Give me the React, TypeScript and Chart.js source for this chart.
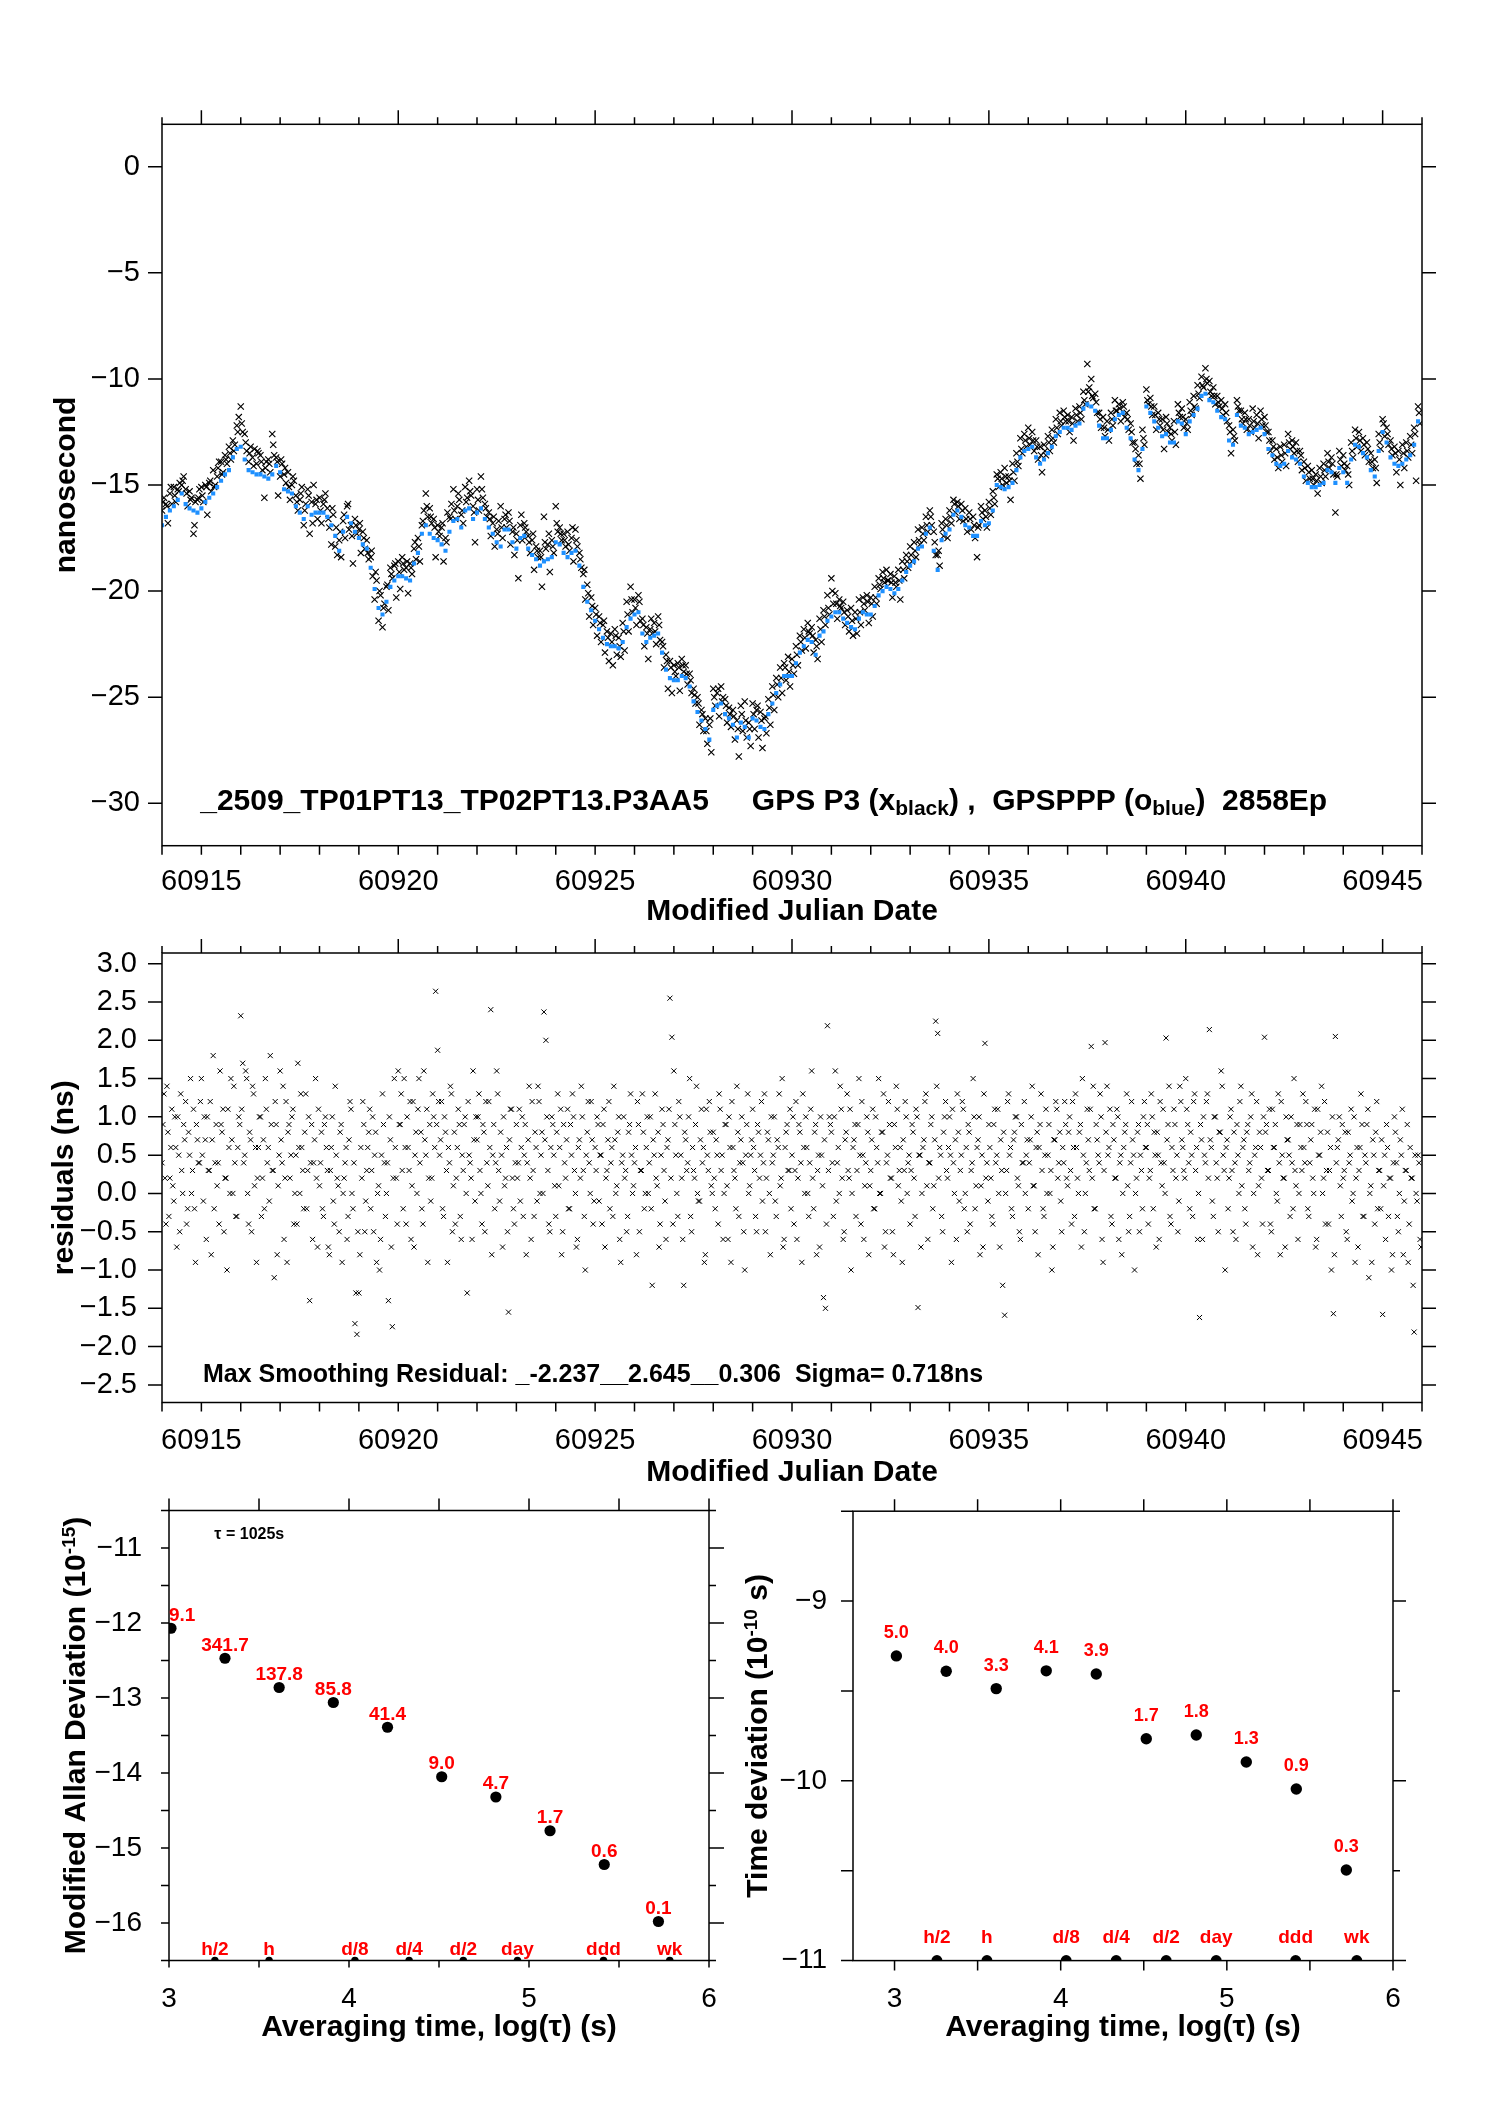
import React, { useEffect, useRef } from "react";
import { Chart, registerables } from "chart.js";

Chart.register(...registerables);

const FONT = "'Liberation Sans', Arial, Helvetica, sans-serif";
const MINUS = "\u2212";
const BLUE = "#1E90FF";
const RED = "#FF0000";

// ---------------- time-series data (MJD grid) ----------------
const mjdStart = 60914.0;
const blueStepDays = 0.1;
const blackStepDays = 0.05;
const blackBStepDays = 0.1;
const blackBOffsetDays = 0.025;
const residBOffsetDays = 0.025;

// GPSPPP (blue), ns, one value per 0.1 day
const gpspppBlue = [
  -16.9,-16.5,-16.2,-16.0,-15.7,-15.4,-15.9,-16.1,-16.2,-16.3,
  -16.1,-15.8,-15.6,-15.4,-15.1,-14.8,-14.5,-14.3,-13.7,-13.3,
  -13.2,-13.8,-14.3,-14.4,-14.5,-14.5,-14.6,-14.7,-14.5,-14.1,
  -14.4,-15.2,-15.3,-15.4,-16.0,-16.3,-16.6,-16.0,-16.4,-16.3,
  -16.3,-16.3,-16.5,-16.9,-17.4,-18.1,-17.2,-16.5,-16.8,-17.2,
  -17.5,-17.8,-18.0,-18.9,-19.9,-20.8,-21.1,-20.5,-19.8,-19.5,
  -19.3,-19.3,-19.4,-19.5,-18.7,-18.2,-17.3,-16.9,-17.3,-17.5,
  -17.6,-17.8,-18.1,-17.2,-16.7,-16.6,-17.0,-16.2,-16.1,-16.6,
  -16.3,-16.1,-16.6,-17.0,-17.3,-17.7,-17.9,-17.1,-17.1,-17.7,
  -18.0,-17.5,-17.4,-18.0,-18.3,-18.5,-18.8,-18.6,-18.5,-18.4,
  -17.7,-17.8,-18.2,-18.4,-18.2,-18.1,-18.8,-19.8,-20.5,-20.9,
  -21.4,-21.8,-22.2,-22.5,-22.6,-22.6,-22.7,-22.4,-21.7,-21.3,
  -21.1,-21.0,-22.0,-22.4,-22.2,-22.1,-22.0,-22.9,-23.7,-24.1,
  -24.2,-24.2,-24.0,-24.1,-24.5,-25.2,-25.7,-26.1,-26.5,-27.0,
  -25.6,-25.4,-25.3,-25.8,-26.0,-26.3,-26.9,-26.2,-26.4,-26.9,
  -26.0,-26.1,-26.4,-26.5,-25.8,-25.3,-24.8,-24.4,-24.0,-24.0,
  -24.0,-23.4,-22.9,-22.6,-22.3,-22.4,-23.0,-22.1,-21.9,-21.4,
  -21.2,-21.0,-21.0,-21.3,-21.5,-21.7,-21.8,-21.3,-21.0,-21.1,
  -21.1,-20.7,-20.2,-20.0,-19.8,-19.9,-20.1,-19.9,-19.5,-19.1,
  -18.8,-18.6,-18.0,-17.9,-17.3,-17.0,-18.1,-19.0,-17.6,-17.3,
  -17.1,-16.4,-16.2,-16.5,-16.9,-17.0,-17.4,-17.4,-16.7,-16.9,
  -16.8,-16.2,-15.0,-15.1,-15.2,-15.1,-14.9,-14.3,-13.7,-13.4,
  -13.3,-13.2,-13.7,-14.0,-13.8,-13.5,-13.2,-12.7,-12.5,-12.3,
  -12.3,-12.4,-12.2,-12.1,-11.4,-11.2,-11.3,-11.5,-12.2,-12.8,
  -12.8,-12.4,-11.9,-11.7,-11.6,-12.3,-12.8,-13.8,-14.3,-13.3,
  -11.3,-11.6,-12.0,-12.3,-12.7,-12.6,-13.0,-13.0,-12.0,-12.1,
  -12.6,-12.0,-11.7,-11.4,-10.8,-10.7,-11.0,-11.1,-11.5,-11.8,
  -11.9,-12.9,-13.1,-11.7,-12.2,-12.3,-12.6,-12.5,-12.4,-12.3,
  -12.6,-13.3,-13.6,-14.0,-14.1,-14.0,-13.4,-13.7,-13.8,-14.0,
  -14.6,-14.9,-15.1,-15.1,-15.0,-14.9,-14.3,-14.4,-14.9,-14.2,
  -14.4,-14.9,-13.8,-13.1,-13.2,-13.5,-13.7,-14.3,-14.6,-13.4,
  -12.5,-13.0,-13.7,-14.0,-14.1,-14.0,-13.8,-13.6,-13.1,-12.0,
];

// GPS P3 (black), ns, one value per 0.05 day
const gpsP3Black = [
  -16.2,-15.6,-15.9,-16.8,-15.4,-15.9,-15.1,-15.8,-15.2,-14.9,-15.0,-14.6,-15.2,-16.0,-15.3,-15.6,-17.3,-15.8,-15.7,-15.2,
  -15.1,-15.8,-15.0,-16.4,-14.9,-15.3,-14.3,-15.0,-14.6,-13.9,-13.9,-14.4,-13.6,-14.0,-13.2,-13.8,-12.9,-13.1,-12.2,-11.8,
  -11.3,-12.5,-12.6,-13.4,-13.9,-13.2,-13.7,-13.3,-14.0,-13.5,-13.6,-14.3,-15.6,-13.9,-13.8,-14.4,-12.6,-13.6,-13.7,-15.5,
  -14.6,-14.0,-14.5,-14.9,-14.4,-15.7,-15.0,-14.8,-15.5,-16.2,-15.7,-15.1,-16.9,-15.9,-15.2,-17.3,-15.8,-15.0,-15.9,-16.6,
  -15.6,-16.8,-15.9,-15.4,-16.1,-17.0,-17.8,-16.4,-17.9,-18.3,-17.6,-18.4,-16.7,-17.5,-16.0,-17.1,-16.9,-18.7,-16.6,-17.3,
  -17.1,-18.2,-17.2,-18.0,-17.6,-18.5,-18.4,-19.3,-20.4,-19.5,-21.4,-20.2,-21.7,-20.6,-19.8,-20.9,-18.9,-19.4,-18.8,-20.3,
  -18.6,-19.9,-18.4,-19.0,-18.9,-20.1,-18.7,-19.2,-18.0,-18.5,-17.5,-18.6,-16.9,-16.2,-15.4,-16.5,-16.1,-16.8,-16.6,-18.4,
  -16.9,-17.4,-17.0,-18.6,-17.5,-16.3,-16.5,-15.9,-15.2,-16.6,-16.0,-15.7,-16.4,-16.8,-15.1,-15.6,-14.8,-15.5,-16.0,-17.7,
  -15.2,-16.2,-14.6,-15.6,-15.9,-16.5,-16.3,-17.4,-16.8,-17.9,-17.1,-16.7,-16.0,-17.5,-16.6,-17.0,-16.3,-17.8,-17.2,-18.3,
  -17.3,-19.4,-16.9,-17.6,-16.8,-17.2,-17.4,-18.2,-17.6,-19.0,-17.9,-18.4,-18.1,-19.8,-16.5,-18.0,-17.8,-19.1,-17.6,-18.2,
  -16.0,-17.2,-17.0,-17.6,-17.3,-17.9,-17.2,-18.1,-17.5,-18.6,-17.1,-17.9,-18.2,-18.9,-19.2,-20.4,-19.7,-21.2,-20.3,-21.6,
  -20.8,-22.1,-21.2,-22.4,-21.6,-22.9,-21.9,-23.3,-22.0,-23.5,-21.8,-23.0,-22.2,-23.1,-21.5,-22.8,-20.5,-21.9,-19.8,-21.0,
  -20.4,-21.6,-20.2,-21.4,-21.3,-22.6,-21.7,-23.2,-21.8,-22.0,-21.5,-22.5,-21.2,-22.3,-22.4,-23.6,-23.0,-24.6,-23.3,-24.8,
  -23.5,-24.0,-23.4,-24.7,-23.2,-23.8,-23.5,-24.4,-23.9,-24.8,-24.6,-25.3,-25.0,-26.3,-25.6,-26.6,-26.0,-27.2,-26.3,-27.6,
  -24.6,-25.4,-24.8,-25.9,-24.5,-25.0,-25.1,-26.2,-25.5,-26.4,-25.6,-27.0,-26.1,-27.8,-25.4,-26.6,-25.2,-26.9,-26.2,-27.3,
  -25.3,-26.5,-25.6,-26.9,-25.7,-27.4,-26.0,-26.7,-25.1,-26.3,-24.5,-25.6,-24.1,-25.0,-23.6,-24.8,-23.4,-24.2,-23.1,-24.5,
  -23.2,-23.9,-22.6,-23.5,-22.1,-22.8,-21.8,-22.7,-21.5,-22.0,-21.7,-22.9,-22.3,-23.2,-21.3,-22.4,-20.9,-21.6,-20.2,-21.1,
  -19.4,-20.6,-20.1,-21.3,-20.4,-20.8,-20.5,-21.6,-20.9,-21.9,-20.8,-22.1,-21.0,-22.0,-20.4,-21.6,-20.3,-20.9,-20.2,-21.5,
  -20.3,-21.2,-19.8,-20.6,-19.4,-19.9,-19.1,-19.6,-19.0,-19.5,-19.2,-20.3,-19.3,-19.8,-19.0,-20.4,-18.6,-19.4,-18.3,-18.9,
  -17.9,-18.6,-17.7,-18.4,-17.1,-17.8,-17.0,-17.6,-16.5,-17.2,-16.2,-16.9,-17.2,-18.3,-18.3,-18.8,-16.8,-17.4,-16.6,-17.5,
  -16.2,-16.8,-15.7,-16.3,-15.8,-16.6,-15.9,-16.7,-16.1,-17.2,-16.3,-17.1,-16.5,-17.5,-18.4,-16.9,-16.0,-16.6,-16.2,-17.0,
  -15.8,-16.4,-15.3,-15.9,-14.5,-15.1,-14.4,-15.0,-14.2,-14.9,-14.6,-15.7,-14.0,-14.8,-13.5,-14.1,-12.8,-13.5,-12.6,-13.2,
  -12.3,-13.1,-12.5,-13.4,-12.9,-13.8,-13.2,-14.4,-13.1,-13.6,-12.7,-13.4,-12.4,-13.0,-11.9,-12.6,-11.6,-12.2,-11.5,-12.0,
  -11.7,-12.5,-11.8,-12.9,-11.4,-12.0,-11.3,-11.9,-10.6,-11.2,-9.3,-10.4,-10.0,-10.9,-10.7,-11.6,-11.6,-12.3,-11.8,-12.7,
  -12.0,-12.9,-11.6,-12.2,-11.0,-11.5,-11.2,-12.0,-11.1,-11.8,-11.6,-12.4,-12.1,-13.0,-13.0,-14.0,-13.6,-14.7,-12.4,-13.1,
  -10.5,-11.2,-10.9,-11.7,-11.3,-12.4,-11.6,-12.2,-11.9,-13.3,-11.8,-12.5,-12.3,-12.9,-12.0,-13.1,-11.2,-11.8,-11.4,-12.3,
  -11.9,-12.4,-11.1,-11.7,-10.8,-11.4,-10.3,-10.9,-9.9,-10.4,-9.5,-10.2,-10.1,-10.8,-10.4,-11.2,-10.8,-11.3,-11.0,-11.7,
  -11.2,-12.0,-12.2,-13.5,-12.4,-12.9,-11.0,-11.5,-11.5,-12.1,-11.6,-12.4,-11.9,-12.5,-11.4,-12.3,-11.7,-12.8,-11.5,-12.2,
  -11.8,-12.5,-12.5,-13.4,-12.9,-13.8,-13.3,-14.2,-13.2,-13.9,-13.1,-14.1,-12.6,-13.3,-12.9,-13.5,-13.0,-13.9,-13.4,-14.3,
  -13.9,-14.8,-14.1,-14.7,-14.3,-15.0,-14.5,-15.4,-14.2,-14.9,-14.0,-14.6,-13.5,-14.2,-13.7,-14.5,-16.3,-14.6,-13.4,-14.1,
  -13.6,-14.3,-14.1,-15.0,-13.0,-13.7,-12.4,-13.2,-12.5,-13.4,-12.8,-13.6,-13.0,-13.9,-13.5,-14.2,-13.8,-14.9,-12.6,-13.3,
  -11.9,-12.7,-12.3,-13.1,-12.9,-13.6,-13.2,-14.4,-13.4,-15.0,-13.1,-14.2,-13.0,-13.7,-12.7,-13.5,-12.3,-14.8,-11.3,-12.1,
];

// GPS P3 (black), intermediate epochs, ns, one value per 0.1 day starting at +0.025 day
const gpsP3BlackB = [
  -15.8,-16.0,-15.1,-15.5,-15.3,-14.8,-15.4,-15.7,-16.9,-15.6,
  -15.5,-15.1,-14.8,-15.1,-14.2,-14.5,-13.8,-13.5,-13.4,-12.5,
  -12.1,-13.0,-13.5,-14.1,-13.4,-13.9,-14.2,-14.0,-13.1,-13.9,
  -13.8,-14.2,-15.1,-14.6,-15.8,-15.4,-16.2,-15.5,-16.8,-15.7,
  -16.2,-15.7,-16.6,-16.1,-17.0,-17.2,-16.4,-15.9,-17.4,-16.9,
  -16.8,-17.5,-18.2,-18.1,-19.1,-20.0,-20.8,-19.7,-19.2,-18.7,
  -19.1,-18.7,-18.6,-18.9,-17.7,-17.9,-16.7,-16.0,-16.5,-17.0,
  -17.2,-16.8,-17.7,-16.6,-16.2,-15.4,-16.2,-15.8,-15.3,-16.3,
  -15.7,-15.2,-16.1,-16.6,-16.5,-17.3,-17.0,-16.4,-16.7,-17.0,
  -17.6,-16.4,-17.0,-17.7,-17.3,-18.1,-18.4,-17.7,-17.3,-17.9,
  -16.8,-17.3,-17.6,-17.8,-17.0,-17.6,-18.5,-19.0,-20.1,-20.7,
  -21.1,-21.5,-21.4,-22.2,-22.4,-22.1,-22.6,-21.9,-21.1,-20.4,
  -20.8,-20.5,-21.6,-22.0,-21.3,-21.9,-21.6,-22.6,-23.3,-23.6,
  -23.8,-23.6,-23.5,-23.9,-24.2,-24.9,-25.3,-25.8,-26.6,-26.0,
  -25.0,-24.6,-25.2,-25.4,-25.8,-25.9,-26.5,-25.8,-26.1,-26.5,
  -25.8,-25.4,-26.1,-25.9,-25.5,-24.9,-24.4,-24.1,-23.6,-23.8,
  -23.5,-23.0,-22.4,-22.2,-21.9,-22.1,-22.6,-21.8,-21.2,-20.8,
  -20.0,-20.6,-20.7,-21.0,-21.2,-21.4,-21.3,-21.0,-20.6,-20.5,
  -20.6,-20.3,-19.7,-19.4,-19.5,-19.6,-19.6,-19.5,-19.0,-18.6,
  -18.3,-18.1,-17.6,-17.3,-16.9,-16.5,-17.7,-18.1,-17.1,-16.9,
  -16.5,-15.9,-16.0,-16.2,-16.6,-16.6,-16.9,-17.0,-16.3,-16.5,
  -16.1,-15.6,-14.7,-14.7,-14.6,-14.8,-14.4,-13.9,-13.3,-12.9,
  -12.8,-12.9,-13.2,-13.6,-13.4,-13.0,-12.8,-12.3,-12.0,-11.8,
  -12.0,-12.1,-11.7,-11.6,-11.0,-10.6,-10.8,-11.1,-11.9,-12.3,
  -12.4,-11.9,-11.5,-11.4,-11.3,-11.9,-12.5,-13.3,-14.0,-12.8,
  -11.0,-11.3,-11.7,-11.9,-12.4,-12.1,-12.6,-12.5,-11.6,-11.8,
  -12.1,-11.5,-11.3,-10.7,-10.3,-10.0,-10.6,-10.8,-11.1,-11.4,
  -11.6,-12.5,-12.7,-11.3,-11.9,-11.9,-12.2,-12.0,-12.1,-11.9,
  -12.2,-12.9,-13.2,-13.7,-13.6,-13.5,-13.0,-13.2,-13.4,-13.6,
  -14.2,-14.4,-14.7,-14.8,-14.6,-14.3,-13.9,-14.0,-14.5,-13.8,
  -14.0,-14.5,-13.4,-12.8,-12.9,-13.1,-13.3,-13.9,-14.2,-13.0,
  -12.1,-12.6,-13.3,-13.5,-13.8,-13.5,-13.4,-13.1,-12.6,-11.6,
];

// smoothing residuals, ns, one value per 0.05 day
const residualsNs = [
  0.4,1.3,-0.4,0.8,0.2,1.1,-0.1,0.6,1.0,-0.5,0.3,0.9,1.2,-0.2,0.5,0.0,1.1,-0.9,0.7,0.4,
  1.5,-0.1,0.7,1.0,0.3,-0.8,1.8,0.4,0.1,-0.4,0.9,1.1,0.2,-1.0,0.6,1.5,0.0,0.4,-0.3,1.0,
  2.32,1.7,0.5,1.5,-0.4,0.7,1.4,0.1,-0.9,0.6,1.0,0.2,-0.2,1.1,0.6,1.8,0.3,-1.1,0.9,0.1,
  1.6,0.4,-0.6,1.2,0.8,0.2,1.0,-0.4,0.5,1.7,0.0,0.6,-0.2,1.3,0.3,-1.4,0.9,0.4,1.5,-0.7,
  0.1,0.8,-0.3,1.0,0.3,-0.8,0.6,-0.1,1.4,0.2,-0.5,0.9,0.0,0.4,-0.6,0.7,1.1,-0.2,-1.7,-1.84,
  -1.3,0.6,1.2,-0.5,0.3,0.8,-0.2,1.0,0.5,-0.9,0.1,-0.6,1.3,0.4,0.0,-1.4,0.7,-1.74,1.5,0.2,
  1.6,0.9,0.3,1.5,-0.4,0.6,1.2,0.1,-0.7,0.8,1.1,0.4,-0.2,1.6,0.5,-0.9,0.9,0.2,1.0,2.64,
  1.87,0.5,1.2,-0.3,0.8,-0.9,0.4,1.3,0.1,-0.4,0.6,0.9,-0.6,0.3,1.0,-1.3,0.5,0.2,1.6,-0.1,
  0.7,1.3,0.0,0.9,-0.5,0.4,1.2,2.40,0.5,-0.2,1.6,0.3,0.8,-0.7,0.1,0.6,-1.55,1.1,0.2,-0.4,
  0.9,0.4,-0.1,1.0,0.5,-0.8,0.7,0.2,1.2,-0.3,0.6,1.4,0.0,0.8,2.37,2.0,0.3,-0.5,1.0,0.5,
  -0.3,1.3,0.6,-0.8,0.9,0.2,1.1,-0.2,0.5,1.0,0.0,-0.6,0.7,1.4,0.3,-1.0,0.8,0.4,1.2,-0.4,
  0.6,1.0,-0.1,0.5,0.9,-0.7,0.3,1.2,0.4,-0.3,0.7,0.1,1.0,-0.9,0.5,0.2,-0.5,0.8,1.3,0.0,
  0.4,-0.8,0.9,0.3,1.3,-0.2,0.6,0.0,1.0,-1.2,0.5,0.2,0.8,-0.4,1.1,0.3,-0.6,0.7,2.55,2.04,
  1.6,0.5,-0.3,1.0,0.2,-1.2,0.7,0.4,1.5,-0.5,0.3,0.9,0.0,-0.1,1.1,0.6,-0.8,0.5,1.2,0.1,
  0.8,-0.2,0.5,1.3,0.3,-0.6,0.9,0.1,1.0,-0.9,0.6,0.2,1.4,-0.3,0.7,0.4,-1.0,0.9,0.0,0.5,
  1.1,0.3,-0.5,0.8,0.5,-0.1,1.3,0.2,0.7,-0.8,0.4,1.0,-0.3,0.6,0.1,1.5,-0.6,0.8,0.3,1.1,
  0.5,-0.4,1.2,0.2,0.8,-0.9,0.6,1.0,0.0,0.4,1.6,-0.2,0.9,0.3,-0.7,0.5,-1.36,-1.50,2.19,1.0,
  0.8,-0.3,1.6,0.4,0.0,1.1,-0.6,0.7,1.3,0.2,-1.0,0.6,0.9,0.3,1.5,-0.4,0.5,0.1,1.0,-0.8,
  0.3,1.1,-0.2,0.6,1.5,0.0,0.8,-0.7,0.4,1.2,0.2,-0.5,0.9,1.4,0.1,0.6,-0.9,0.3,1.0,0.4,
  -0.4,0.9,0.2,1.1,-1.49,0.5,0.0,0.7,1.3,-0.6,0.4,1.0,0.1,2.25,2.09,0.6,-0.3,0.8,1.2,0.2,
  1.0,-0.9,0.4,0.7,1.3,-0.1,0.5,1.1,0.0,-0.5,0.8,0.3,1.5,-0.2,0.6,1.0,0.1,-0.7,1.96,0.4,
  0.9,0.2,-0.4,1.1,0.5,0.0,0.7,-1.2,-1.59,0.3,1.3,0.6,-0.3,0.8,1.0,0.1,-0.6,0.4,1.2,0.5,
  -0.2,0.7,1.4,0.1,0.6,-0.8,0.9,0.3,-0.3,1.1,0.5,0.0,-1.0,0.7,1.2,0.2,0.8,-0.5,0.4,0.9,
  0.1,1.0,-0.4,0.6,1.3,0.2,0.8,-0.7,0.5,0.0,1.1,0.3,1.92,1.4,-0.2,0.7,0.4,1.0,-0.9,1.97,
  1.4,0.6,-0.3,0.9,0.2,1.1,-0.6,0.5,0.0,0.8,1.3,-0.5,0.4,0.7,-1.0,0.2,0.9,0.5,-0.2,1.2,
  0.6,-0.4,0.3,1.0,0.8,-0.7,0.5,1.2,0.1,0.4,2.03,0.9,-0.3,0.6,1.1,0.2,-0.5,1.4,0.7,0.3,
  1.5,0.9,-0.2,0.5,1.2,0.3,-0.6,-1.62,0.7,1.0,0.4,1.3,2.14,0.6,-0.3,1.0,0.2,0.8,1.6,0.5,
  -1.0,0.7,0.2,1.1,-0.5,0.4,0.9,0.0,1.4,0.6,-0.2,0.8,0.3,1.0,-0.7,0.5,1.2,0.1,0.6,-0.4,
  2.04,0.9,0.3,-0.4,1.1,0.6,0.0,1.3,-0.8,0.5,0.2,1.0,0.7,-0.3,0.4,1.5,0.1,-0.6,0.9,0.3,
  0.6,1.2,-0.2,0.4,0.9,0.0,-0.7,1.1,0.5,1.4,0.2,-0.4,0.8,0.3,-1.0,-1.57,2.05,0.6,1.0,-0.3,
  0.2,0.8,-0.6,0.4,1.1,0.0,-0.9,0.6,0.3,1.3,-0.3,0.5,0.9,-1.1,0.1,0.7,-0.4,1.2,0.3,-0.2,
  -1.58,0.5,0.9,-0.3,0.2,-0.8,1.0,0.4,-0.5,0.7,1.1,-0.1,0.3,-0.9,0.6,0.2,-1.81,0.0,0.5,-0.6,
];

// smoothing residuals, intermediate epochs, ns, one value per 0.05 day starting at +0.025 day
const residualsNsB = [
  0.9,0.2,1.4,-0.3,0.6,0.1,1.0,-0.7,0.5,1.3,0.0,0.7,-0.4,0.8,1.5,0.3,-0.2,0.9,0.4,1.2,
  0.5,1.0,-0.6,0.3,1.2,0.7,-0.2,0.9,0.4,1.6,0.8,-0.5,0.2,1.1,0.0,0.7,1.4,-0.3,0.6,0.9,
  1.1,0.4,1.6,0.0,0.8,-0.5,1.3,0.6,0.2,1.0,-0.3,0.7,1.5,0.4,-0.1,0.9,0.3,1.2,-0.8,0.5,
  0.7,1.4,0.2,-0.9,0.9,0.5,1.1,0.0,-0.4,0.6,1.3,0.3,0.8,-0.2,1.0,0.4,-0.6,0.7,0.2,1.1,
  0.4,-0.2,0.9,0.6,-0.7,0.3,1.0,-0.4,0.5,0.1,0.8,-0.9,0.2,0.6,-0.3,1.2,0.0,0.4,-1.3,-0.5,
  -0.8,0.2,0.9,-0.1,0.6,1.1,0.3,-0.5,0.8,0.0,-1.0,0.5,0.9,-0.3,0.4,1.0,-0.7,0.2,0.6,-0.4,
  0.9,1.3,-0.2,0.6,1.0,0.3,-0.6,1.2,0.5,0.0,1.5,0.8,-0.4,0.7,1.1,0.2,-0.1,1.3,0.6,0.9,
  1.2,0.7,-0.2,1.0,0.3,0.6,1.4,-0.5,0.8,0.2,1.1,-0.3,0.5,0.9,0.0,1.2,0.4,-0.6,0.7,1.0,
  1.0,0.3,-0.4,0.8,1.2,0.1,0.6,-0.8,0.9,0.4,1.3,-0.1,0.5,1.0,0.2,-0.5,0.7,1.1,-0.2,0.4,
  0.2,1.1,0.6,-0.3,0.9,0.4,1.4,-0.6,0.3,0.8,-0.1,1.2,0.5,0.0,0.7,1.0,-0.4,0.6,0.9,0.1,
  0.8,0.1,1.1,-0.5,0.4,0.7,-0.2,0.9,1.3,0.3,-0.7,0.6,0.2,1.0,-0.3,0.5,1.2,0.0,0.7,-0.1,
  0.3,0.9,0.5,-0.4,1.1,0.2,0.7,-0.2,0.6,1.4,0.0,0.8,-0.6,0.4,1.0,0.3,-0.3,0.9,0.5,0.1,
  0.6,1.2,-0.5,0.3,0.8,0.0,1.0,0.4,-0.2,0.7,1.3,0.1,-0.7,0.5,0.9,-0.1,0.6,1.1,0.2,-0.4,
  0.9,0.0,1.2,0.5,-0.6,0.8,0.3,1.0,-0.3,0.6,0.2,1.4,-0.1,0.7,0.4,-0.9,1.1,0.3,0.8,0.0,
  0.2,0.7,-0.4,1.1,0.5,0.0,0.9,-0.6,0.6,1.2,0.3,-0.2,0.8,0.4,1.0,-0.5,0.5,1.3,0.1,0.7,
  0.6,-0.3,0.9,0.2,1.2,0.4,-0.5,0.8,0.0,1.0,0.5,-0.1,0.7,1.3,0.2,-0.7,0.6,0.9,0.3,-0.2,
  1.0,0.3,-0.6,0.9,0.4,1.3,0.0,0.6,-0.3,1.1,0.2,0.8,-0.8,0.5,1.0,0.1,0.7,-0.4,0.3,0.9,
  0.4,1.0,-0.1,0.6,1.4,0.2,-0.5,0.8,0.3,1.1,0.0,0.7,-0.3,0.9,0.5,1.2,-0.6,0.4,0.8,0.1,
  0.7,-0.2,1.0,0.4,0.0,0.8,1.3,-0.5,0.5,0.9,0.2,-0.8,0.6,1.1,0.3,-0.1,0.7,1.2,0.0,0.5,
  0.3,0.8,-0.3,1.0,0.5,-0.7,0.6,1.2,0.1,0.4,0.9,-0.2,0.7,1.4,0.2,0.5,-0.5,1.0,0.3,0.6,
  0.5,1.1,0.0,-0.6,0.8,0.3,1.2,-0.2,0.6,0.9,-0.4,0.4,1.0,0.1,0.7,-0.8,0.5,1.3,0.2,-0.1,
  0.6,-0.3,0.9,0.4,1.1,-0.7,0.3,0.8,0.0,1.2,0.5,-0.2,0.7,1.0,0.2,-0.5,0.9,0.4,0.0,0.7,
  0.4,1.0,0.1,-0.5,0.8,0.6,1.3,-0.2,0.5,0.0,0.9,0.3,-0.7,0.7,1.1,0.4,-0.1,0.6,1.2,0.2,
  0.8,0.3,1.2,-0.3,0.6,0.0,0.9,1.5,-0.5,0.4,0.7,1.1,0.2,-0.2,0.9,0.5,1.3,-0.6,0.3,0.8,
  0.5,1.1,-0.4,0.7,0.2,1.0,0.4,-0.8,0.6,0.9,0.1,-0.3,1.2,0.5,0.0,0.8,-0.5,0.3,1.0,0.6,
  0.9,0.2,1.3,-0.2,0.5,0.8,-0.6,0.4,1.1,0.0,0.7,1.4,-0.4,0.3,0.9,0.5,-0.1,1.2,0.6,0.2,
  1.1,0.4,0.8,-0.3,1.3,0.6,0.0,0.9,-0.6,0.5,1.2,0.2,0.7,-0.1,1.0,0.4,-0.5,0.8,1.4,0.3,
  0.6,-0.2,1.0,0.3,0.8,-0.6,0.5,1.2,0.1,0.7,-0.4,0.9,0.4,1.3,0.0,0.6,-0.8,0.8,0.2,1.0,
  0.8,0.3,1.1,-0.5,0.6,0.9,-0.1,0.4,1.2,0.2,-0.7,0.7,0.5,1.0,-0.2,0.3,0.9,0.0,0.6,1.3,
  0.4,0.9,-0.3,0.7,0.2,1.1,-0.6,0.5,0.8,0.0,1.2,0.3,-0.4,0.6,1.0,-0.8,0.4,0.7,0.1,0.9,
  0.3,-0.5,0.8,0.5,-0.1,1.0,0.2,-0.7,0.6,0.9,-0.3,0.4,1.1,0.0,-0.9,0.5,0.8,-0.2,0.3,0.7,
  0.1,-0.6,0.6,0.2,-1.0,0.4,0.8,-0.3,0.0,0.5,-0.8,0.3,0.9,-0.4,0.2,-1.2,0.5,-0.1,0.4,-0.7,
];

const mjdMin = 60914;
const mjdMax = 60946;
const mjdTickValues = [60915, 60920, 60925, 60930, 60935, 60940, 60945];
const nsTickValues = [-30, -25, -20, -15, -10, -5, 0];
const residTickValues = [-2.5, -2.0, -1.5, -1.0, -0.5, 0, 0.5, 1.0, 1.5, 2.0, 2.5, 3.0];

// ---------------- stability data ----------------
const logTau = [3.011, 3.311, 3.612, 3.913, 4.214, 4.515, 4.816, 5.117, 5.418, 5.719];
const mdevLog = [-12.07, -12.47, -12.86, -13.06, -13.39, -14.05, -14.32, -14.77, -15.22, -15.98];
const mdevLabels = ["9.1", "341.7", "137.8", "85.8", "41.4", "9.0", "4.7", "1.7", "0.6", "0.1"];
const tdevLog = [-9.305, -9.39, -9.487, -9.388, -9.406, -9.766, -9.745, -9.895, -10.045, -10.496];
const tdevLabels = ["5.0", "4.0", "3.3", "4.1", "3.9", "1.7", "1.8", "1.3", "0.9", "0.3"];
const markerNames = ["h/2", "h", "d/8", "d/4", "d/2", "day", "ddd", "wk"];
const markerLogTau = [3.255, 3.556, 4.033, 4.334, 4.635, 4.936, 5.414, 5.782];
const logTauTickValues = [3, 4, 5, 6];
const mdevTickValues = [-16, -15, -14, -13, -12, -11];
const tdevTickValues = [-11, -10, -9];
const mdevAxisMin = -16.5;
const mdevAxisMax = -10.5;
const tdevAxisMin = -11;
const tdevAxisMax = -8.5;

// ---------------- text ----------------
const topTitleA = "_2509_TP01PT13_TP02PT13.P3AA5";
const residualNote = "Max Smoothing Residual: _-2.237__2.645__0.306  Sigma= 0.718ns";
const tauNote = "\u03C4 = 1025s";

// ---------------- helpers ----------------
type Side = "top" | "bottom" | "left" | "right";
type TickSpec = { side: Side; values: number[]; len: number };
type Seg = { t: string; size: number; dy?: number };
type Geo = { cx: number; cy: number; cw: number; ch: number; L: number; T: number; R: number; B: number };

const range = (a: number, b: number, s: number) => {
  const out: number[] = [];
  for (let v = a; v <= b + 1e-9; v += s) out.push(Math.round(v * 1000) / 1000);
  return out;
};
const fmtSigned = (v: number, d: number) => (v < 0 ? MINUS : "") + Math.abs(v).toFixed(d);

function drawFrame(chart: any, ticks: TickSpec[]) {
  const { ctx, chartArea: a } = chart;
  const xs = chart.scales.x;
  const ys = chart.scales.y;
  ctx.save();
  ctx.strokeStyle = "#000";
  ctx.lineWidth = 1.5;
  ctx.strokeRect(a.left, a.top, a.right - a.left, a.bottom - a.top);
  ctx.beginPath();
  for (const t of ticks) {
    for (const v of t.values) {
      if (t.side === "top" || t.side === "bottom") {
        const p = xs.getPixelForValue(v);
        const y0 = t.side === "top" ? a.top : a.bottom;
        const y1 = t.side === "top" ? a.top - t.len : a.bottom + t.len;
        ctx.moveTo(p, y0);
        ctx.lineTo(p, y1);
      } else {
        const p = ys.getPixelForValue(v);
        const x0 = t.side === "left" ? a.left : a.right;
        const x1 = t.side === "left" ? a.left - t.len : a.right + t.len;
        ctx.moveTo(x0, p);
        ctx.lineTo(x1, p);
      }
    }
  }
  ctx.stroke();
  ctx.restore();
}

function segWidth(ctx: CanvasRenderingContext2D, segs: Seg[]) {
  let w = 0;
  for (const s of segs) {
    ctx.font = `bold ${s.size}px ${FONT}`;
    w += ctx.measureText(s.t).width;
  }
  return w;
}

function drawSegs(ctx: CanvasRenderingContext2D, x: number, y: number, segs: Seg[], color = "#000") {
  let cx = x;
  ctx.fillStyle = color;
  ctx.textAlign = "left";
  ctx.textBaseline = "alphabetic";
  for (const s of segs) {
    ctx.font = `bold ${s.size}px ${FONT}`;
    ctx.fillText(s.t, cx, y + (s.dy || 0));
    cx += ctx.measureText(s.t).width;
  }
}

function drawVTitle(chart: any, xBaseline: number, segs: Seg[]) {
  const { ctx, chartArea: a } = chart;
  ctx.save();
  const w = segWidth(ctx, segs);
  ctx.translate(xBaseline, (a.top + a.bottom) / 2);
  ctx.rotate(-Math.PI / 2);
  drawSegs(ctx, -w / 2, 0, segs);
  ctx.restore();
}

function xAxis(g: Geo, min: number, max: number, ticks: number[], fmt: (v: number) => string, size: number, pad: number, title: string, pb: number) {
  return {
    type: "linear",
    position: "bottom",
    min,
    max,
    grid: { display: false, drawTicks: false },
    border: { display: false },
    ticks: {
      autoSkip: false,
      maxRotation: 0,
      minRotation: 0,
      padding: pad,
      color: "#000",
      font: { family: FONT, size },
      callback: (v: any) => fmt(Number(v)),
    },
    afterBuildTicks: (s: any) => {
      s.ticks = ticks.map((v) => ({ value: v }));
    },
    afterFit: (s: any) => {
      s.height = g.cy + g.ch - g.B;
    },
    title: {
      display: true,
      text: title,
      color: "#000",
      font: { family: FONT, size: 30, weight: "bold" },
      padding: { top: 0, bottom: pb },
    },
  };
}

function yAxis(g: Geo, min: number, max: number, ticks: number[], fmt: (v: number) => string, size: number, pad: number, title: string | null, pt: number) {
  return {
    type: "linear",
    position: "left",
    min,
    max,
    grid: { display: false, drawTicks: false },
    border: { display: false },
    ticks: {
      autoSkip: false,
      padding: pad,
      color: "#000",
      font: { family: FONT, size },
      callback: (v: any) => fmt(Number(v)),
    },
    afterBuildTicks: (s: any) => {
      s.ticks = ticks.map((v) => ({ value: v }));
    },
    afterFit: (s: any) => {
      s.width = g.L - g.cx;
    },
    title: title
      ? {
          display: true,
          text: title,
          color: "#000",
          font: { family: FONT, size: 30, weight: "bold" },
          padding: { top: pt, bottom: 0 },
        }
      : { display: false },
  };
}

function baseOptions(g: Geo, scales: any) {
  return {
    responsive: false,
    animation: false,
    events: [],
    layout: { padding: { top: g.T - g.cy, right: g.cx + g.cw - g.R, left: 0, bottom: 0 } },
    plugins: { legend: { display: false }, tooltip: { enabled: false } },
    scales,
  };
}

// ---------------- panel geometry (page pixels) ----------------
const geoTop: Geo = { cx: 0, cy: 40, cw: 1488, ch: 890, L: 162, T: 124.3, R: 1422, B: 845.7 };
const geoRes: Geo = { cx: 0, cy: 905, cw: 1488, ch: 590, L: 162, T: 953, R: 1422, B: 1402.5 };
const geoMdev: Geo = { cx: 0, cy: 1460, cw: 744, ch: 645, L: 169, T: 1510.5, R: 709, B: 1960.5 };
const geoTdev: Geo = { cx: 744, cy: 1460, cw: 744, ch: 645, L: 853, T: 1511.2, R: 1393, B: 1960.6 };

const dayTicks = range(mjdMin, mjdMax, 1);

const blackX = {
  showLine: false,
  pointStyle: "crossRot",
  pointRadius: 4.4,
  pointBorderColor: "#000",
  pointBorderWidth: 1.1,
};

function buildTop() {
  const g = geoTop;
  const blueData = gpspppBlue.map((v, i) => ({ x: mjdStart + i * blueStepDays, y: v }));
  const blackData = gpsP3Black.map((v, i) => ({ x: mjdStart + i * blackStepDays, y: v }));
  const blackDataB = gpsP3BlackB.map((v, i) => ({ x: mjdStart + blackBOffsetDays + i * blackBStepDays, y: v }));
  const ticks: TickSpec[] = [
    { side: "top", values: dayTicks, len: 7 },
    { side: "top", values: mjdTickValues, len: 14 },
    { side: "bottom", values: dayTicks, len: 9 },
    { side: "left", values: nsTickValues, len: 14 },
    { side: "right", values: nsTickValues, len: 14 },
  ];
  return {
    type: "scatter",
    data: {
      datasets: [
        { label: "GPSPPP", data: blueData, showLine: false, pointStyle: "rect", pointRadius: 2.9, pointBackgroundColor: BLUE, pointBorderWidth: 0 },
        { label: "GPS P3", data: blackData, ...blackX },
        { label: "GPS P3 (b)", data: blackDataB, ...blackX },
      ],
    },
    options: baseOptions(g, {
      x: xAxis(g, mjdMin, mjdMax, mjdTickValues, (v) => String(v), 29, 19, "Modified Julian Date", 0),
      y: yAxis(g, -32, 2, nsTickValues, (v) => fmtSigned(v, 0), 29, 22, "nanosecond", 49),
    }),
    plugins: [
      {
        id: "topExtras",
        afterDraw: (chart: any) => {
          drawFrame(chart, ticks);
          const { ctx } = chart;
          const xs = chart.scales.x;
          const ys = chart.scales.y;
          const yb = ys.getPixelForValue(-30.3);
          ctx.save();
          drawSegs(ctx, xs.getPixelForValue(60914.97), yb, [{ t: topTitleA, size: 30 }]);
          drawSegs(ctx, xs.getPixelForValue(60928.98), yb, [
            { t: "GPS P3 (x", size: 30 },
            { t: "black", size: 21, dy: 5 },
            { t: ") ,  GPSPPP (o", size: 30 },
            { t: "blue", size: 21, dy: 5 },
            { t: ")  2858Ep", size: 30 },
          ]);
          ctx.restore();
        },
      },
    ],
  };
}

function buildRes() {
  const g = geoRes;
  const resData = residualsNs.map((v, i) => ({ x: mjdStart + i * blackStepDays, y: v }));
  const resDataB = residualsNsB.map((v, i) => ({ x: mjdStart + residBOffsetDays + i * blackStepDays, y: v }));
  const resX = { showLine: false, pointStyle: "crossRot", pointRadius: 3.6, pointBorderColor: "#000", pointBorderWidth: 1 };
  const ticks: TickSpec[] = [
    { side: "top", values: dayTicks, len: 7 },
    { side: "top", values: mjdTickValues, len: 14 },
    { side: "bottom", values: dayTicks, len: 9 },
    { side: "left", values: residTickValues, len: 14 },
    { side: "right", values: residTickValues, len: 14 },
  ];
  return {
    type: "scatter",
    data: {
      datasets: [
        { label: "residuals", data: resData, ...resX },
        { label: "residuals (b)", data: resDataB, ...resX },
      ],
    },
    options: baseOptions(g, {
      x: xAxis(g, mjdMin, mjdMax, mjdTickValues, (v) => String(v), 29, 21, "Modified Julian Date", 4.4),
      y: yAxis(g, -2.73, 3.14, residTickValues, (v) => fmtSigned(v, 1), 29, 25, "residuals (ns)", 46.6),
    }),
    plugins: [
      {
        id: "resExtras",
        afterDraw: (chart: any) => {
          drawFrame(chart, ticks);
          const { ctx } = chart;
          ctx.save();
          drawSegs(ctx, chart.scales.x.getPixelForValue(60915.04), chart.scales.y.getPixelForValue(-2.466), [{ t: residualNote, size: 25 }]);
          ctx.restore();
        },
      },
    ],
  };
}

function drawPointLabels(chart: any, xs: number[], ys: number[], labels: string[], size: number, dy: number) {
  const { ctx, chartArea: a } = chart;
  ctx.save();
  ctx.font = `bold ${size}px ${FONT}`;
  ctx.fillStyle = RED;
  ctx.textAlign = "center";
  ctx.textBaseline = "alphabetic";
  labels.forEach((t, i) => {
    const w = ctx.measureText(t).width;
    const px = Math.max(chart.scales.x.getPixelForValue(xs[i]), a.left + w / 2);
    ctx.fillText(t, px, chart.scales.y.getPixelForValue(ys[i]) - dy);
  });
  ctx.restore();
}

function drawMarkerLabels(chart: any, size: number, dy: number) {
  const { ctx, chartArea: a } = chart;
  ctx.save();
  ctx.font = `bold ${size}px ${FONT}`;
  ctx.fillStyle = RED;
  ctx.textAlign = "center";
  ctx.textBaseline = "alphabetic";
  markerNames.forEach((t, i) => {
    ctx.fillText(t, chart.scales.x.getPixelForValue(markerLogTau[i]), a.bottom - dy);
  });
  ctx.restore();
}

function buildMdev() {
  const g = geoMdev;
  const ticks: TickSpec[] = [
    { side: "top", values: range(3, 6, 0.5), len: 12 },
    { side: "bottom", values: range(3, 6, 0.5), len: 7 },
    { side: "left", values: range(-16.5, -10.5, 0.5), len: 8 },
    { side: "right", values: range(-16.5, -10.5, 0.5), len: 7 },
    { side: "right", values: mdevTickValues, len: 15 },
  ];
  return {
    type: "scatter",
    data: {
      datasets: [
        { label: "MDEV", data: logTau.map((x, i) => ({ x, y: mdevLog[i] })), showLine: false, pointStyle: "circle", pointRadius: 5.6, pointBackgroundColor: "#000", pointBorderWidth: 0 },
        { label: "markers", data: markerLogTau.map((x) => ({ x, y: mdevAxisMin })), showLine: false, pointStyle: "circle", pointRadius: 3.8, pointBackgroundColor: "#000", pointBorderWidth: 0, clip: 0 },
      ],
    },
    options: baseOptions(g, {
      x: xAxis(g, 3, 6, logTauTickValues, (v) => String(v), 28, 21.5, "Averaging time, log(\u03C4) (s)", 59.4),
      y: yAxis(g, mdevAxisMin, mdevAxisMax, mdevTickValues, (v) => fmtSigned(v, 0), 28, 27, null, 0),
    }),
    plugins: [
      {
        id: "mdevExtras",
        afterDraw: (chart: any) => {
          drawFrame(chart, ticks);
          drawPointLabels(chart, logTau, mdevLog, mdevLabels, 19, 7.7);
          drawMarkerLabels(chart, 19, 6);
          const { ctx } = chart;
          ctx.save();
          drawSegs(ctx, chart.scales.x.getPixelForValue(3.252), chart.scales.y.getPixelForValue(-10.875), [{ t: tauNote, size: 16 }]);
          ctx.restore();
          drawVTitle(chart, 85, [
            { t: "Modified Allan Deviation (10", size: 30 },
            { t: "-15", size: 19, dy: -10 },
            { t: ")", size: 30 },
          ]);
        },
      },
    ],
  };
}

function buildTdev() {
  const g = geoTdev;
  const ticks: TickSpec[] = [
    { side: "top", values: range(3, 6, 0.5), len: 12 },
    { side: "bottom", values: range(3, 6, 0.5), len: 10 },
    { side: "left", values: range(-11, -8.5, 0.5), len: 12 },
    { side: "right", values: range(-11, -8.5, 0.5), len: 7 },
    { side: "right", values: tdevTickValues, len: 13 },
  ];
  return {
    type: "scatter",
    data: {
      datasets: [
        { label: "TDEV", data: logTau.map((x, i) => ({ x, y: tdevLog[i] })), showLine: false, pointStyle: "circle", pointRadius: 5.7, pointBackgroundColor: "#000", pointBorderWidth: 0 },
        { label: "markers", data: markerLogTau.map((x) => ({ x, y: tdevAxisMin })), showLine: false, pointStyle: "circle", pointRadius: 5.5, pointBackgroundColor: "#000", pointBorderWidth: 0, clip: 0 },
      ],
    },
    options: baseOptions(g, {
      x: xAxis(g, 2.75, 6, logTauTickValues, (v) => String(v), 28, 21.5, "Averaging time, log(\u03C4) (s)", 59.4),
      y: yAxis(g, tdevAxisMin, tdevAxisMax, tdevTickValues, (v) => fmtSigned(v, 0), 28, 26, null, 0),
    }),
    plugins: [
      {
        id: "tdevExtras",
        afterDraw: (chart: any) => {
          drawFrame(chart, ticks);
          drawPointLabels(chart, logTau, tdevLog, tdevLabels, 18, 18);
          drawMarkerLabels(chart, 19, 18);
          drawVTitle(chart, 767 - g.cx, [
            { t: "Time deviation (10", size: 30 },
            { t: "-10", size: 19, dy: -10 },
            { t: " s)", size: 30 },
          ]);
        },
      },
    ],
  };
}

function Panel({ geo, build }: { geo: Geo; build: () => any }) {
  const ref = useRef<HTMLCanvasElement>(null);
  useEffect(() => {
    if (!ref.current) return;
    const chart = new Chart(ref.current, build());
    return () => chart.destroy();
  }, []);
  return (
    <canvas
      ref={ref}
      width={geo.cw}
      height={geo.ch}
      style={{ position: "absolute", left: geo.cx, top: geo.cy, width: geo.cw, height: geo.ch }}
    />
  );
}

export default function App() {
  return (
    <div style={{ position: "absolute", left: 0, top: 0, width: 1488, height: 2105, background: "#fff", overflow: "hidden" }}>
      <Panel geo={geoTop} build={buildTop} />
      <Panel geo={geoRes} build={buildRes} />
      <Panel geo={geoMdev} build={buildMdev} />
      <Panel geo={geoTdev} build={buildTdev} />
    </div>
  );
}
